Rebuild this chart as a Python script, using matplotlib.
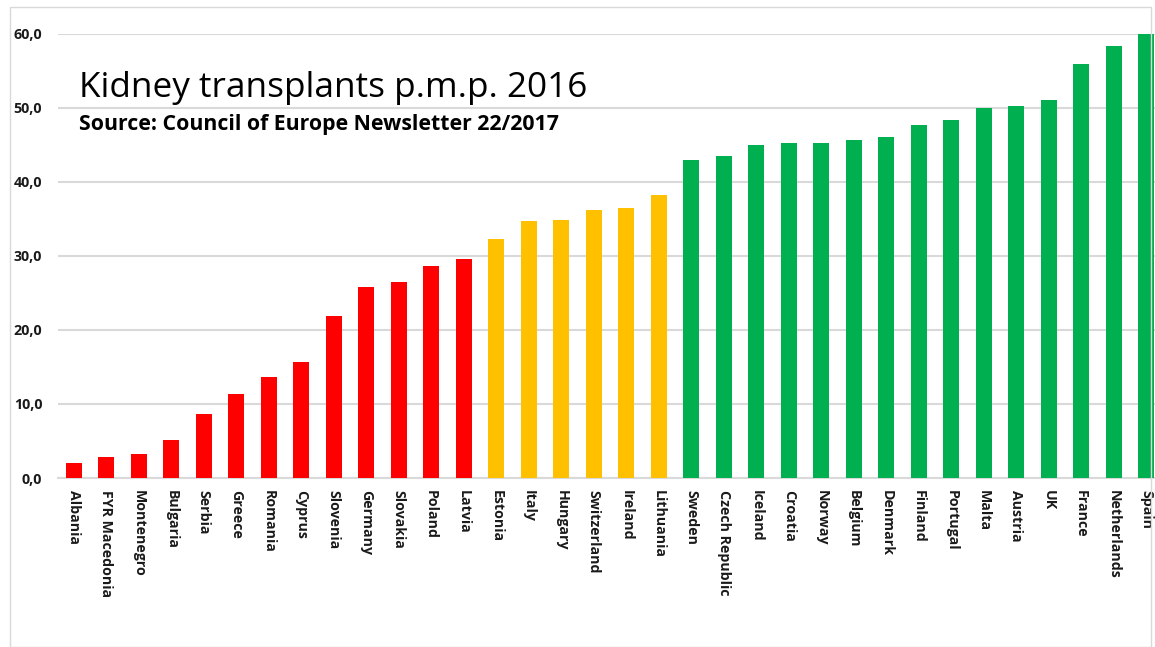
import matplotlib
matplotlib.use('Agg')
import matplotlib.pyplot as plt
from matplotlib.patches import Rectangle

plt.rcParams['font.family'] = ['Open Sans', 'DejaVu Sans']

# データ（p.m.p. 2016）
countries = ['Albania', 'FYR Macedonia', 'Montenegro', 'Bulgaria', 'Serbia', 'Greece',
             'Romania', 'Cyprus', 'Slovenia', 'Germany', 'Slovakia', 'Poland', 'Latvia',
             'Estonia', 'Italy', 'Hungary', 'Switzerland', 'Ireland', 'Lithuania',
             'Sweden', 'Czech Republic', 'Iceland', 'Croatia', 'Norway', 'Belgium',
             'Denmark', 'Finland', 'Portugal', 'Malta', 'Austria', 'UK', 'France',
             'Netherlands', 'Spain']
values = [2.0, 2.8, 3.2, 5.1, 8.6, 11.4, 13.7, 15.7, 21.8, 25.8, 26.5, 28.6, 29.5,
          32.3, 34.7, 34.8, 36.2, 36.5, 38.2,
          42.9, 43.5, 44.9, 45.2, 45.2, 45.6, 46.0, 47.6, 48.3, 49.9, 50.2, 51.0, 55.9,
          58.3, 60.0]
groups = ['low'] * 13 + ['mid'] * 6 + ['high'] * 15
yticks = [0, 10, 20, 30, 40, 50, 60]

group_colors = {'low': '#FF0000', 'mid': '#FFC000', 'high': '#00B050'}
colors = [group_colors[g] for g in groups]

W, H = 1155, 647
fig = plt.figure(figsize=(W / 100, H / 100), dpi=100)

# チャートエリアの枠
fig.patches.append(Rectangle((10 / W, 0), (W - 14) / W, 1 - 7 / H, transform=fig.transFigure,
                             fill=False, edgecolor='#D9D9D9', lw=1))

ax = fig.add_axes([57.5 / W, 1 - 478 / H, 1105 / W, (478 - 33.5) / H])
x = list(range(len(countries)))
ax.bar(x, values, width=0.5, color=colors, zorder=3)

ax.set_xlim(-0.5, len(countries) - 0.5)
ax.set_ylim(0, 60)
ax.set_yticks(yticks)
ax.set_yticklabels([('%.1f' % v).replace('.', ',') for v in yticks],
                   fontsize=10.3, fontweight='bold', color='#1a1a1a')
ax.set_xticks(x)
ax.set_xticklabels(countries, rotation=-90, fontsize=10.2, fontweight='bold', color='#1a1a1a',
                   va='top', ha='center')
ax.tick_params(axis='both', length=0)
ax.tick_params(axis='y', pad=11)
ax.tick_params(axis='x', pad=9)
ax.grid(axis='y', color='#D9D9D9', lw=1.5, zorder=0)
for s in ['top', 'right', 'left']:
    ax.spines[s].set_visible(False)
ax.spines['bottom'].set_color('#D9D9D9')
ax.spines['bottom'].set_linewidth(1.5)

fig.text(79 / W, 1 - 97 / H, 'Kidney transplants p.m.p. 2016', fontsize=25.3, color='black',
         va='baseline', ha='left')
fig.text(79 / W, 1 - 130 / H, 'Source: Council of Europe Newsletter 22/2017', fontsize=15.3,
         fontweight='bold', color='black', va='baseline', ha='left')

fig.savefig('out.png', dpi=100)
